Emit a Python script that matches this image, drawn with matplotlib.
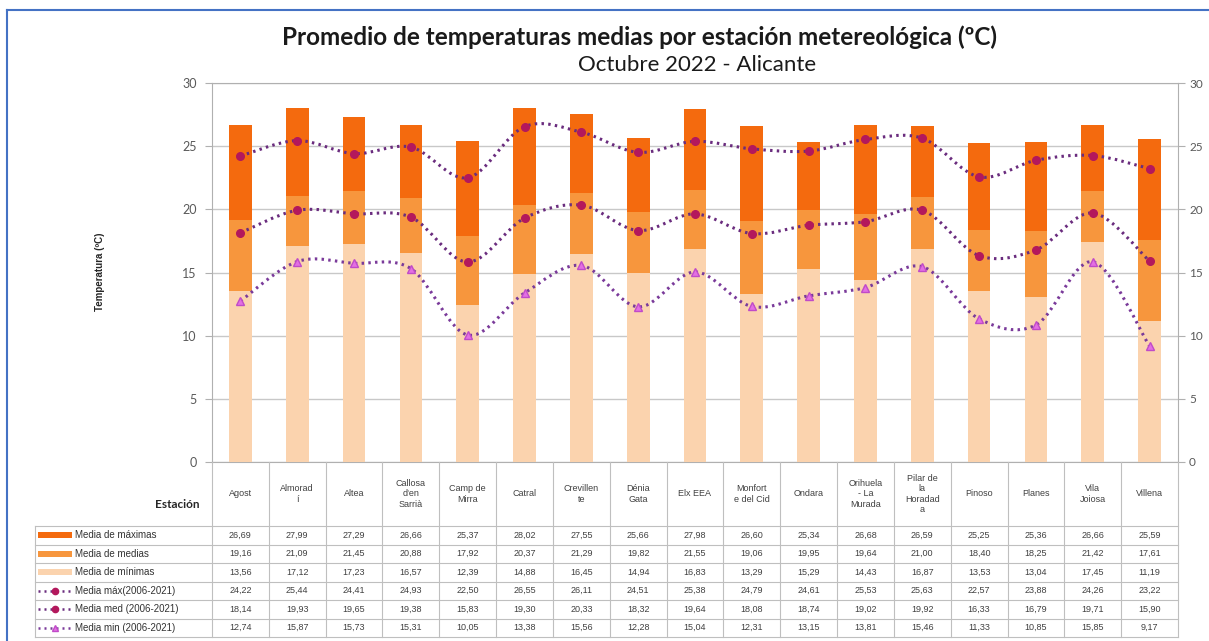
import numpy as np
import matplotlib
matplotlib.use('Agg')
import matplotlib.pyplot as plt
from matplotlib.path import Path
from matplotlib.patches import PathPatch, Rectangle
from matplotlib.lines import Line2D
from matplotlib.transforms import Affine2D, blended_transform_factory

# Data (Octubre 2022, Alicante)
estaciones = ['Agost', 'Almorad\ní', 'Altea', "Callosa\nd'en\nSarrià", 'Camp de\nMirra', 'Catral',
              'Crevillen\nte', 'Dénia\nGata', 'Elx EEA', 'Monfort\ne del Cid', 'Ondara',
              'Orihuela\n- La\nMurada', 'Pilar de\nla\nHoradad\na', 'Pinoso', 'Planes', 'Vila\nJoiosa', 'Villena']
media_maximas = [26.69, 27.99, 27.29, 26.66, 25.37, 28.02, 27.55, 25.66, 27.98, 26.60, 25.34, 26.68, 26.59, 25.25, 25.36, 26.66, 25.59]
media_medias = [19.16, 21.09, 21.45, 20.88, 17.92, 20.37, 21.29, 19.82, 21.55, 19.06, 19.95, 19.64, 21.00, 18.40, 18.25, 21.42, 17.61]
media_minimas = [13.56, 17.12, 17.23, 16.57, 12.39, 14.88, 16.45, 14.94, 16.83, 13.29, 15.29, 14.43, 16.87, 13.53, 13.04, 17.45, 11.19]
hist_max = [24.22, 25.44, 24.41, 24.93, 22.50, 26.55, 26.11, 24.51, 25.38, 24.79, 24.61, 25.53, 25.63, 22.57, 23.88, 24.26, 23.22]
hist_med = [18.14, 19.93, 19.65, 19.38, 15.83, 19.30, 20.33, 18.32, 19.64, 18.08, 18.74, 19.02, 19.92, 16.33, 16.79, 19.71, 15.90]
hist_min = [12.74, 15.87, 15.73, 15.31, 10.05, 13.38, 15.56, 12.28, 15.04, 12.31, 13.15, 13.81, 15.46, 11.33, 10.85, 15.85, 9.17]

W, H = 1209, 641
fig = plt.figure(figsize=(W / 100, H / 100), dpi=100)
px = Affine2D().scale(1 / W, -1 / H).translate(0, 1) + fig.transFigure

font_main = ['Lato', 'DejaVu Sans']
font_tab = ['Liberation Sans Narrow', 'Liberation Sans', 'DejaVu Sans']

c_max, c_med, c_min = '#F46A0E', '#F7963D', '#FBD3AE'
line_col = '#6A2C7E'
grid_col = '#BFBFBF'

# plot area in pixels
x0, x1, ytop, ybot = 212, 1178, 83, 462
ax = fig.add_axes([x0 / W, 1 - ybot / H, (x1 - x0) / W, (ybot - ytop) / H])
n = len(estaciones)
x = np.arange(n)
ax.set_xlim(-0.5, n - 0.5)
ax.set_ylim(0, 30)
ax.set_yticks(range(0, 31, 5))
ax.set_xticks([])
ax.yaxis.grid(True, color='#C8C8C8', lw=1)
ax.set_axisbelow(True)
for s in ax.spines.values():
    s.set_color('#B0B0B0')
ax.tick_params(axis='y', colors='#B0B0B0', labelcolor='#595959', labelsize=9, length=5, pad=6)
for lab in ax.get_yticklabels():
    lab.set_family(font_main)

ax2 = ax.twinx()
ax2.set_ylim(0, 30)
ax2.set_yticks(range(0, 31, 5))
ax2.tick_params(axis='y', colors='#B0B0B0', labelcolor='#595959', labelsize=8.5, length=5, pad=3)
for lab in ax2.get_yticklabels():
    lab.set_family(font_main)
for s in ax2.spines.values():
    s.set_visible(False)

# overlapping bars drawn from zero
bw = 0.4
ax.bar(x, media_maximas, width=bw, color=c_max, zorder=2)
ax.bar(x, media_medias, width=bw, color=c_med, zorder=3)
ax.bar(x, media_minimas, width=bw, color=c_min, zorder=4)


def smooth_path(xs, ys):
    # Excel-like smoothed line (Catmull-Rom as cubic Bezier)
    pts = np.column_stack([xs, ys]).astype(float)
    verts = [pts[0]]
    codes = [Path.MOVETO]
    for i in range(len(pts) - 1):
        p0 = pts[i - 1] if i > 0 else pts[i]
        p1, p2 = pts[i], pts[i + 1]
        p3 = pts[i + 2] if i + 2 < len(pts) else pts[i + 1]
        verts += [p1 + (p2 - p0) / 6, p2 - (p3 - p1) / 6, p2]
        codes += [Path.CURVE4] * 3
    return Path(verts, codes)


series = [(hist_max, 'o', '#B3185C', '#B3185C', line_col),
          (hist_med, 'o', '#B3185C', '#B3185C', line_col),
          (hist_min, '^', '#E36FE3', '#C04BC8', '#7A3A9A')]
for vals, mk, mfc, mec, lc in series:
    ax.add_patch(PathPatch(smooth_path(x, vals), fill=False, edgecolor=lc, lw=2.2,
                           linestyle=(0, (0.8, 1.4)), zorder=5))
    ax.plot(x, vals, ls='none', marker=mk, ms=5.5, mfc=mfc, mec=mec, zorder=6)

# titles
fig.text(639 / W, 1 - 37 / H, 'Promedio de temperaturas medias por estación metereológica (ºC)',
         ha='center', va='center', fontsize=17.5, fontweight='bold', family=font_main, color='#1A1A1A')
fig.text(697 / W, 1 - 65 / H, 'Octubre 2022 - Alicante', ha='center', va='center',
         fontsize=16, family=font_main, color='#1A1A1A')
fig.text(100 / W, 1 - 272 / H, 'Temperatura (ºC)', rotation=90, ha='center', va='center',
         fontsize=7, fontweight='bold', family=font_tab, color='#262626')

# data table below the chart
tb = blended_transform_factory(ax.transData, px)
head_top, head_bot, row_h = 462, 526, 18.5
rows_bot = head_bot + 6 * row_h
leg_left = 35

# grid
for b in np.arange(n + 1) - 0.5:
    fig.add_artist(Line2D([b, b], [head_top, rows_bot], transform=tb, color=grid_col, lw=0.8))
fig.add_artist(Line2D([leg_left, leg_left], [head_bot, rows_bot], transform=px, color=grid_col, lw=0.8))
for r in range(7):
    yy = head_bot + r * row_h
    fig.add_artist(Line2D([leg_left, x1], [yy, yy], transform=px, color=grid_col, lw=0.8))

fig.text(200 / W, 1 - 505 / H, 'Estación', ha='right', va='center', fontsize=8.5,
         fontweight='bold', family=font_main, color='#262626')
for i, name in enumerate(estaciones):
    fig.text(i, (head_top + head_bot) / 2, name, transform=tb, ha='center', va='center',
             fontsize=6.5, family=font_tab, color='#404040', linespacing=1.15)

row_labels = ['Media de máximas', 'Media de medias', 'Media de mínimas',
              'Media máx(2006-2021)', 'Media med (2006-2021)', 'Media min (2006-2021)']
row_data = [media_maximas, media_medias, media_minimas, hist_max, hist_med, hist_min]
row_keys = [('bar', c_max), ('bar', c_med), ('bar', c_min)] + [('line', s) for s in series]
for r, (lab, vals, key) in enumerate(zip(row_labels, row_data, row_keys)):
    yc = head_bot + (r + 0.5) * row_h
    if key[0] == 'bar':
        fig.add_artist(Rectangle((38, yc - 3), 34, 6, transform=px, color=key[1], lw=0))
    else:
        _, mk, mfc, mec, lc = key[1]
        fig.add_artist(Line2D([38, 72], [yc, yc], transform=px, color=lc, lw=1.8,
                              linestyle=(0, (0.8, 1.6))))
        fig.add_artist(Line2D([55], [yc], transform=px, marker=mk, ms=4.5, mfc=mfc, mec=mec, ls='none'))
    fig.text(75 / W, 1 - yc / H, lab, ha='left', va='center', fontsize=7,
             family=font_tab, color='#333333')
    for i, v in enumerate(vals):
        fig.text(i, yc, f'{v:.2f}'.replace('.', ','), transform=tb, ha='center', va='center',
                 fontsize=6.5, family=font_tab, color='#404040')

# blue frame
fig.add_artist(Line2D([7, 7], [10, H], transform=px, color='#4472C4', lw=1.5))
fig.add_artist(Line2D([7, W], [10, 10], transform=px, color='#4472C4', lw=1.5))

fig.savefig('out.png', dpi=100)
